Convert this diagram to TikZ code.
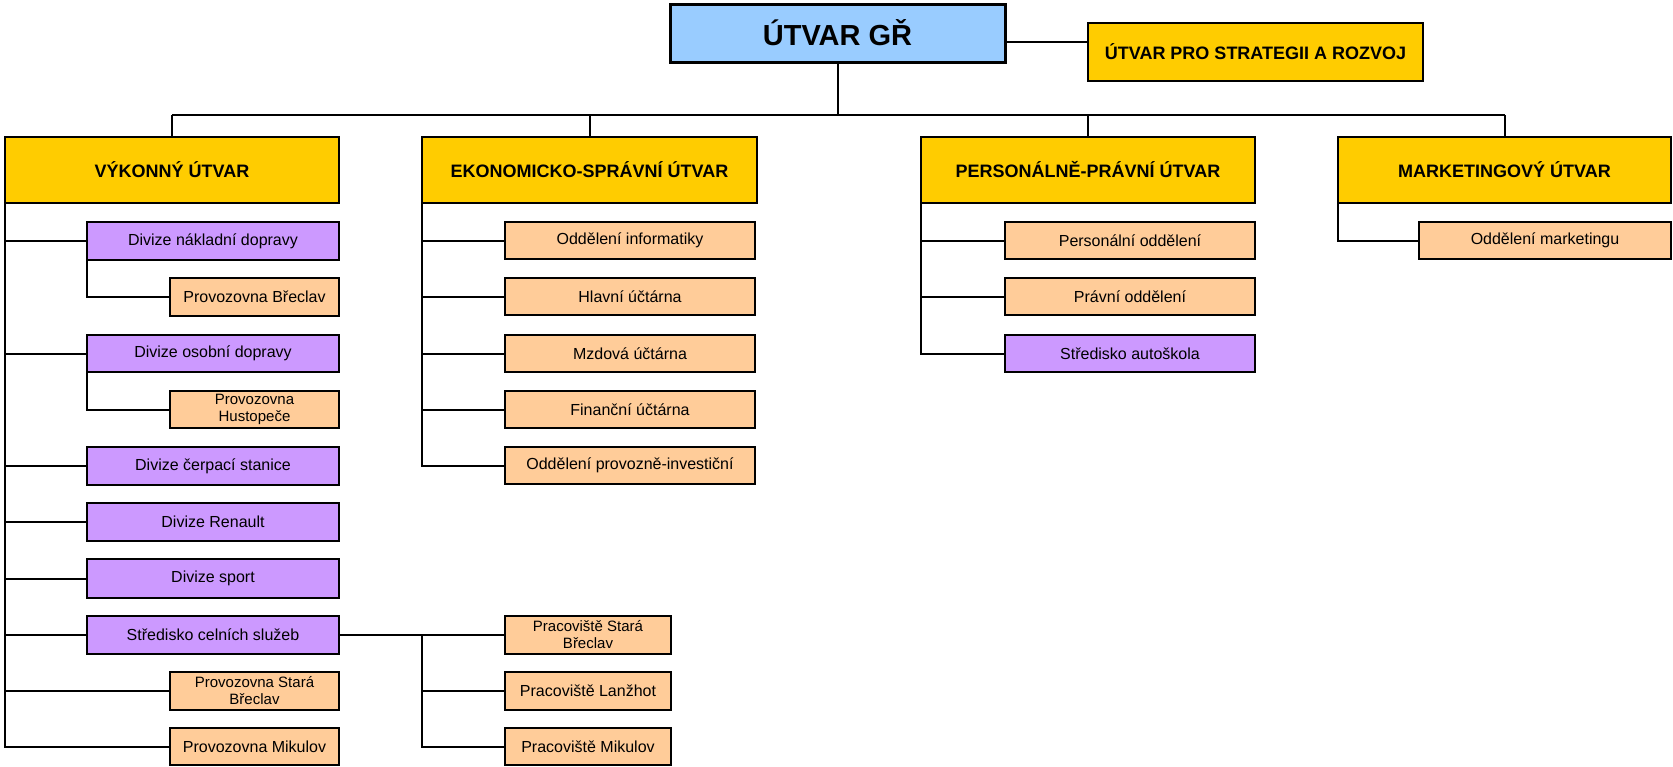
\documentclass[tikz,border=0pt]{standalone}
\usepackage{fontspec}
\setmainfont{Liberation Sans}
\definecolor{gblue}{HTML}{99CCFF}
\definecolor{gold}{HTML}{FFCC00}
\definecolor{purp}{HTML}{CC99FF}
\definecolor{peach}{HTML}{FFCC99}
\newcommand\bx[7]{\node[#1, minimum width=#5pt-#3pt, minimum height=#6pt-#4pt] (#2) at (#3,#4) {#7};}
\begin{document}
\begin{tikzpicture}[x=1pt,y=-1pt,
  box/.style={draw=black, line width=2pt, inner sep=0pt, outer sep=0pt, anchor=north west, align=center},
  top/.style={box, fill=gblue, line width=3pt, font=\bfseries\fontsize{29}{32}\selectfont},
  lvl/.style={box, fill=gold, font=\bfseries\fontsize{18}{20}\selectfont},
  div/.style={box, fill=purp, font=\fontsize{16}{18}\selectfont},
  unit/.style={box, fill=peach, font=\fontsize{16}{18}\selectfont},
  unit2/.style={box, fill=peach, font=\fontsize{15}{17}\selectfont},
  conn/.style={line width=2pt}]
\useasboundingbox (0,0) rectangle (1673,766);
\fill[white] (0,0) rectangle (1673,766);
% top
\bx{top}{gr}{670}{4}{1005}{62}{ÚTVAR GŘ}
\bx{lvl}{str}{1088}{23}{1423}{81}{ÚTVAR PRO STRATEGII A ROZVOJ}
% level 1
\bx{lvl}{vyk}{5}{137}{339}{203}{VÝKONNÝ ÚTVAR}
\bx{lvl}{eko}{422}{137}{757}{203}{EKONOMICKO-SPRÁVNÍ ÚTVAR}
\bx{lvl}{per}{921}{137}{1255}{203}{PERSONÁLNĚ-PRÁVNÍ ÚTVAR}
\bx{lvl}{mkt}{1338}{137}{1671}{203}{MARKETINGOVÝ ÚTVAR}
% vykonny subtree
\bx{div}{dn}{87}{222}{339}{260}{Divize nákladní dopravy}
\bx{unit}{pb}{170}{278}{339}{316}{Provozovna Břeclav}
\bx{div}{do}{87}{335}{339}{372}{Divize osobní dopravy}
\bx{unit2}{ph}{170}{391}{339}{428}{Provozovna\\Hustopeče}
\bx{div}{dc}{87}{447}{339}{485}{Divize čerpací stanice}
\bx{div}{dr}{87}{503}{339}{541}{Divize Renault}
\bx{div}{ds}{87}{559}{339}{598}{Divize sport}
\bx{div}{sc}{87}{616}{339}{654}{Středisko celních služeb}
\bx{unit2}{psb}{170}{672}{339}{710}{Provozovna Stará\\Břeclav}
\bx{unit}{pmk}{170}{728}{339}{765}{Provozovna Mikulov}
\bx{unit2}{wsb}{505}{616}{671}{654}{Pracoviště Stará\\Břeclav}
\bx{unit}{wlz}{505}{672}{671}{710}{Pracoviště Lanžhot}
\bx{unit}{wmk}{505}{728}{671}{765}{Pracoviště Mikulov}
% ekonomicko subtree
\bx{unit}{oi}{505}{222}{755}{259}{Oddělení informatiky}
\bx{unit}{hu}{505}{278}{755}{315}{Hlavní účtárna}
\bx{unit}{mu}{505}{335}{755}{372}{Mzdová účtárna}
\bx{unit}{fu}{505}{391}{755}{428}{Finanční účtárna}
\bx{unit}{opi}{505}{447}{755}{484}{Oddělení provozně-investiční}
% personalni subtree
\bx{unit}{po}{1005}{222}{1255}{259}{Personální oddělení}
\bx{unit}{pro}{1005}{278}{1255}{315}{Právní oddělení}
\bx{div}{sa}{1005}{335}{1255}{372}{Středisko autoškola}
% marketing subtree
\bx{unit}{om}{1419}{222}{1671}{259}{Oddělení marketingu}
% connectors
\coordinate (bus) at (0,115);
\coordinate (sj) at (422,635);
\draw[conn] (gr.east |- 0,42) -- (str.west |- 0,42);
\draw[conn] (gr.south) -- (gr.south |- bus);
\draw[conn] (vyk.north |- bus) -- (mkt.north |- bus);
\foreach \n in {vyk,eko,per,mkt} \draw[conn] (\n.north |- bus) -- (\n.north);
% vykonny
\draw[conn] (vyk.south west) |- (pmk.west);
\foreach \n in {dn,do,dc,dr,ds,sc,psb} \draw[conn] (vyk.south west |- \n.west) -- (\n.west);
\draw[conn] (dn.south west) |- (pb.west);
\draw[conn] (do.south west) |- (ph.west);
\draw[conn] (sc.east) -- (wsb.west);
\draw[conn] (sj) |- (wmk.west);
\draw[conn] (sj |- wlz.west) -- (wlz.west);
% ekonomicko
\draw[conn] (eko.south west) |- (opi.west);
\foreach \n in {oi,hu,mu,fu} \draw[conn] (eko.south west |- \n.west) -- (\n.west);
% personalni
\draw[conn] (per.south west) |- (sa.west);
\foreach \n in {po,pro} \draw[conn] (per.south west |- \n.west) -- (\n.west);
% marketing
\draw[conn] (mkt.south west) |- (om.west);
\end{tikzpicture}
\end{document}
